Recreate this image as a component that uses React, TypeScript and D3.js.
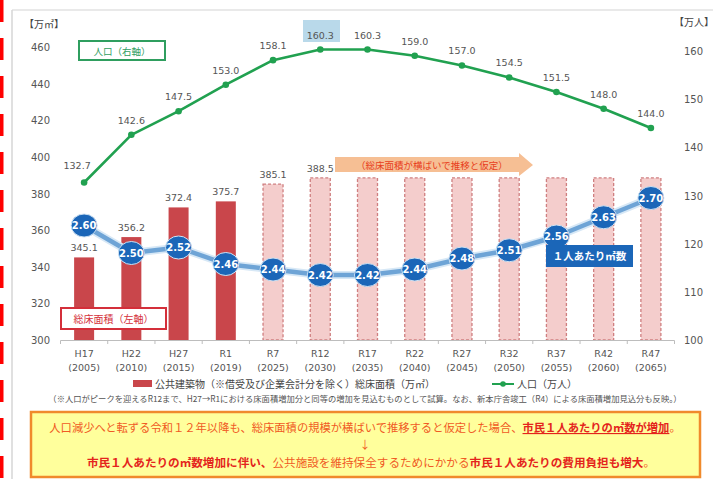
import React from "react";
import * as d3 from "d3";

const categories = ["H17", "H22", "H27", "R1", "R7", "R12", "R17", "R22", "R27", "R32", "R37", "R42", "R47"];
const years = ["(2005)", "(2010)", "(2015)", "(2019)", "(2025)", "(2030)", "(2035)", "(2040)", "(2045)", "(2050)", "(2055)", "(2060)", "(2065)"];
const floorArea = [345.1, 356.2, 372.4, 375.7, 385.1, 388.5, 388.5, 388.5, 388.5, 388.5, 388.5, 388.5, 388.5];
const floorAreaLabels = ["345.1", "356.2", "372.4", "375.7", "385.1", "388.5", "", "", "", "", "", "", ""];
const actualCount = 4;
const population = [132.7, 142.6, 147.5, 153.0, 158.1, 160.3, 160.3, 159.0, 157.0, 154.5, 151.5, 148.0, 144.0];
const perPerson = [2.60, 2.50, 2.52, 2.46, 2.44, 2.42, 2.42, 2.44, 2.48, 2.51, 2.56, 2.63, 2.70];
const leftTicks = [300, 320, 340, 360, 380, 400, 420, 440, 460];
const rightTicks = [100, 110, 120, 130, 140, 150, 160];

const NUM = "'DejaVu Sans', Verdana, sans-serif";
const JP = "'Noto Sans CJK JP', 'Noto Sans', sans-serif";

export default function App() {
  const x = d3.scaleBand<string>().domain(categories).range([60.5, 674.5]);
  const cx = (c: string) => (x(c) as number) + x.bandwidth() / 2;
  const yL = d3.scaleLinear().domain([300, 460]).range([340, 47]);
  const yR = d3.scaleLinear().domain([100, 160]).range([340, 51]);
  const yB = d3.scaleLinear().domain([2.42, 2.70]).range([275, 198]);
  const barW = 20;

  const popLine = d3.line<number>().x((_, i) => cx(categories[i])).y((d) => yR(d));
  const perLine = d3.line<number>().x((_, i) => cx(categories[i])).y((d) => yB(d));

  const redDashes = d3.range(0, 479, 38);

  return (
    <svg width={713} height={479} style={{ position: "absolute", left: 0, top: 0, background: "#fff" }}>
      {/* left red dashed marker */}
      {redDashes.map((y, i) => (
        <rect key={i} x={0} y={y} width={3.5} height={22} fill="#ff0000" />
      ))}
      {/* panel border */}
      <line x1={12} y1={10} x2={713} y2={10} stroke="#e2e2e2" strokeWidth={1.5} />
      <line x1={12} y1={10} x2={12} y2={479} stroke="#d6d6d6" strokeWidth={1.5} />

      {/* axis units */}
      <text x={24} y={28} fontFamily={JP} fontSize={10} fill="#444">【万㎡】</text>
      <text x={674} y={26} fontFamily={JP} fontSize={10} fill="#444">【万人】</text>

      {/* left ticks */}
      {leftTicks.map((t) => (
        <text key={t} x={50} y={yL(t) + 4} textAnchor="end" fontFamily={NUM} fontSize={10} fill="#555">{t}</text>
      ))}
      {/* right ticks */}
      {rightTicks.map((t) => (
        <text key={t} x={684} y={yR(t) + 4} fontFamily={NUM} fontSize={10} fill="#555">{t}</text>
      ))}

      {/* bars */}
      {floorArea.map((v, i) => {
        const c = categories[i];
        const actual = i < actualCount;
        return (
          <rect
            key={c}
            x={cx(c) - barW / 2}
            y={yL(v)}
            width={barW}
            height={yL(300) - yL(v)}
            fill={actual ? "#c9464b" : "#f4cdcc"}
            stroke={actual ? "none" : "#cf7f80"}
            strokeWidth={actual ? 0 : 1.3}
            strokeDasharray={actual ? undefined : "3,2"}
          />
        );
      })}
      {floorAreaLabels.map((l, i) =>
        l ? (
          <text key={i} x={cx(categories[i])} y={yL(floorArea[i]) - 6} textAnchor="middle" fontFamily={NUM} fontSize={9.5} fill="#555">{l}</text>
        ) : null
      )}

      {/* x axis */}
      <line x1={60.5} y1={340.5} x2={674.5} y2={340.5} stroke="#bdbdbd" strokeWidth={1} />
      {categories.map((c) => (
        <line key={c} x1={(x(c) as number)} y1={340.5} x2={(x(c) as number)} y2={344} stroke="#bdbdbd" />
      ))}
      <line x1={674.5} y1={340.5} x2={674.5} y2={344} stroke="#bdbdbd" />
      {categories.map((c, i) => (
        <g key={c}>
          <text x={cx(c)} y={357} textAnchor="middle" fontFamily={NUM} fontSize={9.5} fill="#555">{c}</text>
          <text x={cx(c)} y={371} textAnchor="middle" fontFamily={NUM} fontSize={9.5} fill="#555">{years[i]}</text>
        </g>
      ))}

      {/* arrow annotation */}
      <polygon points="335,157 519,157 519,153 533,165 519,176 519,172 335,172" fill="#f6bf94" />
      <text x={356} y={168.5} fontFamily={JP} fontSize={9.5} fill="#e8401c">（総床面積が横ばいで推移と仮定）</text>

      {/* per-person line */}
      <path d={perLine(perPerson) || ""} fill="none" stroke="#d7e8f6" strokeWidth={8} strokeLinejoin="round" />
      <path d={perLine(perPerson) || ""} fill="none" stroke="#6ea4d6" strokeWidth={4.5} strokeLinejoin="round" />
      {perPerson.map((v, i) => (
        <g key={i}>
          <ellipse cx={cx(categories[i])} cy={yB(v)} rx={13} ry={11.5} fill="#1b66b8" stroke="#cfe2f3" strokeWidth={1} />
          <text x={cx(categories[i])} y={yB(v) + 3.8} textAnchor="middle" fontFamily={NUM} fontSize={10} fontWeight="bold" fill="#fff">{v.toFixed(2)}</text>
        </g>
      ))}

      {/* population line */}
      <path d={popLine(population) || ""} fill="none" stroke="#21a150" strokeWidth={2.6} strokeLinejoin="round" />
      {population.map((v, i) => (
        <circle key={i} cx={cx(categories[i])} cy={yR(v)} r={3.3} fill="#21a150" />
      ))}
      <rect x={303} y={20} width={37} height={22} fill="#b9d9ea" />
      {population.map((v, i) => (
        <text key={i} x={cx(categories[i]) + (i === 0 ? -7 : 0)} y={yR(v) - (i === 0 ? 13 : 11)} textAnchor="middle" fontFamily={NUM} fontSize={9.5} fill="#555">{v.toFixed(1)}</text>
      ))}

      {/* boxes */}
      <rect x={79} y={41} width={86} height={19} fill="#fff" stroke="#2f9e5f" strokeWidth={2} />
      <text x={122} y={54.5} textAnchor="middle" fontFamily={JP} fontSize={9.5} fill="#2f9e5f">人口（右軸）</text>

      <rect x={61} y={308} width={105} height={21} fill="#fff" stroke="#d42f3a" strokeWidth={2} />
      <text x={113.5} y={322.5} textAnchor="middle" fontFamily={JP} fontSize={10} fill="#d42f3a">総床面積（左軸）</text>

      <rect x={546} y={245} width={87} height={22} fill="#1b66b8" />
      <text x={589.5} y={260} textAnchor="middle" fontFamily={JP} fontSize={10.5} fontWeight="bold" fill="#fff">１人あたり㎡数</text>

      {/* legend */}
      <rect x={133} y={380} width={19} height={7} fill="#c9464b" />
      <text x={155} y={387.5} fontFamily={JP} fontSize={10} fill="#444">公共建築物（※借受及び企業会計分を除く）総床面積（万㎡）</text>
      <line x1={492} y1={384} x2={514} y2={384} stroke="#21a150" strokeWidth={2} />
      <circle cx={503} cy={384} r={2.8} fill="#21a150" />
      <text x={517} y={387.5} fontFamily={JP} fontSize={10} fill="#444">人口（万人）</text>

      {/* note */}
      <text x={365} y={402} textAnchor="middle" fontFamily={JP} fontSize={8.3} fill="#555">（※人口がピークを迎えるR12まで、H27→R1における床面積増加分と同等の増加を見込むものとして試算。なお、新本庁舎竣工（R4）による床面積増加見込分も反映。）</text>

      {/* conclusion box */}
      <rect x={31} y={412} width={669} height={65} fill="#ffff9c" stroke="#f08a2c" strokeWidth={2.5} />
      <text x={365} y={432} textAnchor="middle" fontFamily={JP} fontSize={11.3} fill="#f05a24">
        人口減少へと転ずる令和１２年以降も、総床面積の規模が横ばいで推移すると仮定した場合、
        <tspan fontWeight="bold" fill="#e4241c" textDecoration="underline">市民１人あたりの㎡数が増加</tspan>
        。
      </text>
      <text x={365} y={449} textAnchor="middle" fontFamily={JP} fontSize={11} fill="#f05a24">↓</text>
      <text x={371} y={467} textAnchor="middle" fontFamily={JP} fontSize={11.6} fill="#f05a24">
        <tspan fontWeight="bold" fill="#e4241c">市民１人あたりの㎡数増加に伴い、</tspan>
        公共施設を維持保全するためにかかる
        <tspan fontWeight="bold" fill="#e4241c">市民１人あたりの費用負担も増大</tspan>
        。
      </text>
    </svg>
  );
}
